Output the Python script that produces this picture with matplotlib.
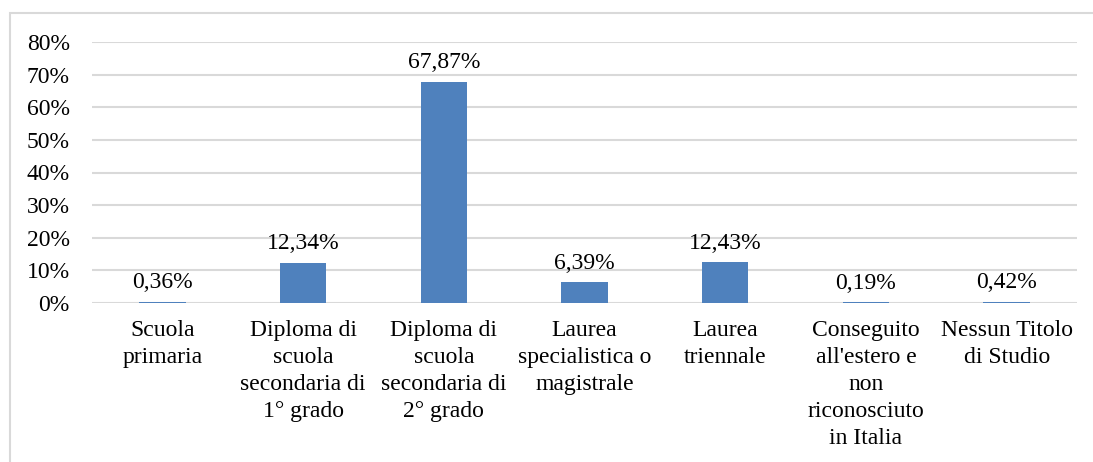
import matplotlib.pyplot as plt
from matplotlib.patches import Rectangle
from matplotlib.ticker import FuncFormatter

categories = ['Scuola\nprimaria',
              'Diploma di\nscuola\nsecondaria di\n1° grado',
              'Diploma di\nscuola\nsecondaria di\n2° grado',
              'Laurea\nspecialistica o\nmagistrale',
              'Laurea\ntriennale',
              "Conseguito\nall'estero e\nnon\nriconosciuto\nin Italia",
              'Nessun Titolo\ndi Studio']
values = [0.36, 12.34, 67.87, 6.39, 12.43, 0.19, 0.42]
yticks = [0, 10, 20, 30, 40, 50, 60, 70, 80]

plt.rcParams['font.family'] = ['Liberation Serif', 'DejaVu Serif']
plt.rcParams['font.size'] = 17

fig = plt.figure(figsize=(10.93, 4.62), dpi=100)
# light frame of the chart area
fig.patches.append(Rectangle((10 / 1093, -0.1), 1.2, 1 - 13 / 462 + 0.1,
                             transform=fig.transFigure, fill=False,
                             edgecolor='#d9d9d9', linewidth=1.5))

ax = fig.add_axes([92 / 1093, 1 - 303 / 462, (1077 - 92) / 1093, (303 - 42) / 462])
x = range(len(categories))
bars = ax.bar(x, values, width=0.33, color='#4f81bd', zorder=3)

for xi, v in zip(x, values):
    ax.annotate(f'{v:.2f}'.replace('.', ',') + '%', (xi, v),
                xytext=(0, 6), textcoords='offset points',
                ha='center', va='bottom', color='#000000')

ax.set_xlim(-0.5, len(categories) - 0.5)
ax.set_ylim(0, 80)
ax.set_yticks(yticks)
ax.yaxis.set_major_formatter(FuncFormatter(lambda v, p: f'{v:.0f}%'))
ax.set_xticks(list(x))
ax.set_xticklabels(categories, linespacing=1.38)
ax.tick_params(axis='both', length=0)
ax.tick_params(axis='y', pad=16)
ax.tick_params(axis='x', pad=12)
ax.grid(axis='y', color='#d9d9d9', linewidth=1.5, zorder=0)
for s in ax.spines.values():
    s.set_visible(False)

plt.savefig('out.png', dpi=100)
